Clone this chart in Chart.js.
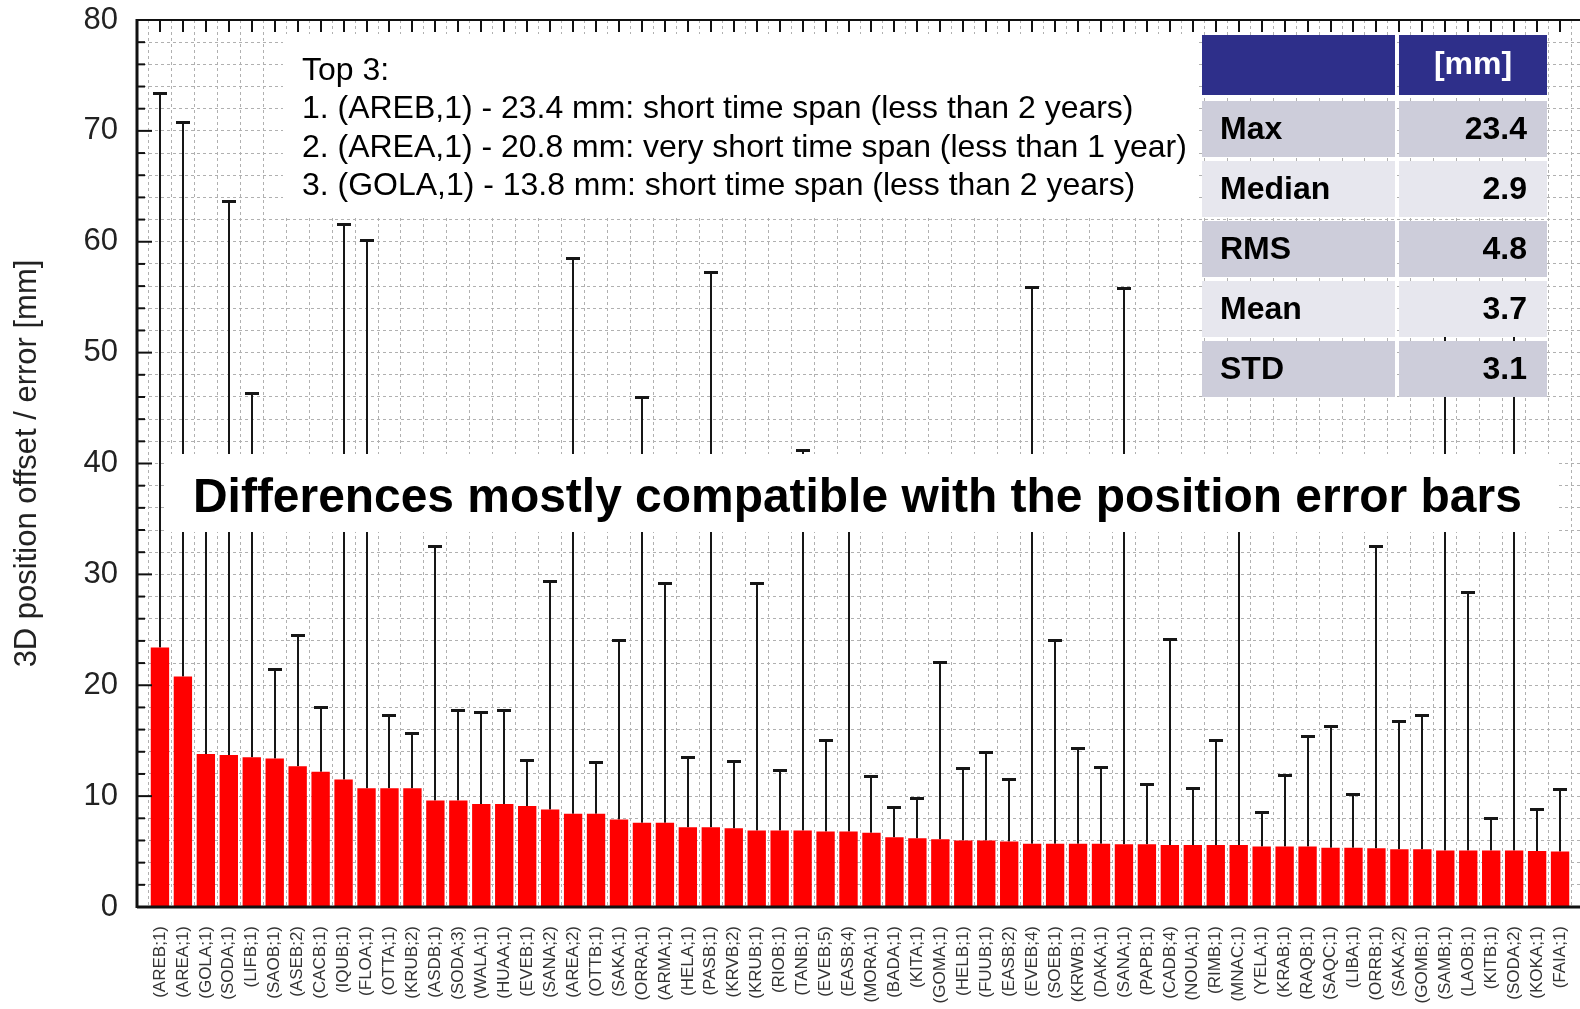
<!DOCTYPE html>
<html><head><meta charset="utf-8">
<script src="https://cdn.jsdelivr.net/npm/chart.js@4.4.1/dist/chart.umd.min.js"></script>
<style>
html,body{margin:0;padding:0;background:#fff;overflow:hidden;width:1580px;height:1009px;}
#wrap{position:absolute;left:0;top:0;width:1600px;height:1009px;}
</style></head><body>
<div id="wrap"><canvas id="c"></canvas></div>
<script>
// ---- data ----
const stations = ['(AREB;1)','(AREA;1)','(GOLA;1)','(SODA;1)','(LIFB;1)','(SAOB;1)','(ASEB;2)','(CACB;1)','(IQUB;1)','(FLOA;1)',
  '(OTTA;1)','(KRUB;2)','(ASDB;1)','(SODA;3)','(WALA;1)','(HUAA;1)','(EVEB;1)','(SANA;2)','(AREA;2)','(OTTB;1)',
  '(SAKA;1)','(ORRA;1)','(ARMA;1)','(HELA;1)','(PASB;1)','(KRVB;2)','(KRUB;1)','(RIOB;1)','(TANB;1)','(EVEB;5)',
  '(EASB;4)','(MORA;1)','(BADA;1)','(KITA;1)','(GOMA;1)','(HELB;1)','(FUUB;1)','(EASB;2)','(EVEB;4)','(SOEB;1)',
  '(KRWB;1)','(DAKA;1)','(SANA;1)','(PAPB;1)','(CADB;4)','(NOUA;1)','(RIMB;1)','(MNAC;1)','(YELA;1)','(KRAB;1)',
  '(RAQB;1)','(SAQC;1)','(LIBA;1)','(ORRB;1)','(SAKA;2)','(GOMB;1)','(SAMB;1)','(LAOB;1)','(KITB;1)','(SODA;2)',
  '(KOKA;1)','(FAIA;1)'];
const offsets = [23.4,20.8,13.8,13.7,13.5,13.4,12.7,12.2,11.5,10.7,
  10.7,10.7,9.6,9.6,9.3,9.3,9.1,8.8,8.4,8.4,
  7.9,7.6,7.6,7.2,7.2,7.1,6.9,6.9,6.9,6.8,
  6.8,6.7,6.3,6.2,6.1,6.0,6.0,5.9,5.7,5.7,
  5.7,5.7,5.65,5.65,5.6,5.6,5.6,5.6,5.45,5.45,
  5.45,5.35,5.35,5.3,5.2,5.2,5.1,5.1,5.1,5.1,
  5.05,5.0];
const errors = [50.0,50.0,23.2,50.0,32.9,8.1,11.8,5.8,50.1,49.5,
  6.6,5.0,23.0,8.2,8.3,8.5,4.2,20.6,50.1,4.7,
  16.2,38.4,21.6,6.3,50.1,6.1,22.3,5.5,34.3,8.3,
  31.2,5.1,2.7,3.6,16.0,6.5,8.0,5.6,50.2,18.4,
  8.6,6.9,50.15,5.45,18.6,5.1,9.5,30.4,3.15,6.45,
  9.95,10.95,4.85,27.3,11.6,12.1,50.0,23.3,2.9,50.0,
  3.8,5.6];
const yMin = 0, yMax = 80, yStep = 2, yLabelStep = 10;
const yTitle = '3D position offset / error [mm]';
const top3Lines = ['Top 3:',
  '1. (AREB,1) - 23.4 mm: short time span (less than 2 years)',
  '2. (AREA,1) - 20.8 mm: very short time span (less than 1 year)',
  '3. (GOLA,1) - 13.8 mm: short time span (less than 2 years)'];
const headline = 'Differences mostly compatible with the position error bars';
const statUnit = '[mm]';
const statNames = ['Max','Median','RMS','Mean','STD'];
const statValues = ['23.4','2.9','4.8','3.7','3.1'];

const FAM = '"Liberation Sans", Arial, Helvetica, sans-serif';

function fitFont(ctx, text, weight, baseSize, targetWidth) {
  ctx.font = weight + ' ' + baseSize + 'px ' + FAM;
  const w = ctx.measureText(text).width;
  return baseSize * targetWidth / w;
}

const errorBars = {
  id: 'errorBars',
  beforeDatasetsDraw(chart) {
    const ctx = chart.ctx, ys = chart.scales.y, meta = chart.getDatasetMeta(0);
    ctx.save();
    ctx.strokeStyle = '#161616';
    meta.data.forEach((bar, i) => {
      const x = Math.round(bar.x);
      const y0 = ys.getPixelForValue(offsets[i]);
      const y1 = Math.round(ys.getPixelForValue(offsets[i] + errors[i])) + 0.5;
      ctx.lineWidth = 2;
      ctx.beginPath(); ctx.moveTo(x, y0); ctx.lineTo(x, y1); ctx.stroke();
      ctx.lineWidth = 3;
      ctx.beginPath(); ctx.moveTo(x - 7, y1); ctx.lineTo(x + 7, y1); ctx.stroke();
    });
    ctx.restore();
  }
};

const overlay = {
  id: 'overlay',
  afterDatasetsDraw(chart) {
    const ctx = chart.ctx, xs = chart.scales.x, ys = chart.scales.y, a = chart.chartArea;
    ctx.save();
    // white boxes behind annotations
    ctx.fillStyle = '#ffffff';
    ctx.fillRect(283, 34, 916, 181);
    ctx.fillRect(165, 454, 1391, 78);
    // frame
    ctx.strokeStyle = '#111';
    ctx.lineWidth = 2;
    ctx.beginPath(); ctx.moveTo(a.left, a.top); ctx.lineTo(a.right, a.top); ctx.stroke();
    ctx.lineWidth = 3;
    ctx.beginPath(); ctx.moveTo(a.left, a.top - 1); ctx.lineTo(a.left, a.bottom + 1); ctx.stroke();
    ctx.beginPath(); ctx.moveTo(a.left, a.bottom); ctx.lineTo(a.right, a.bottom); ctx.stroke();
    // inner ticks on y axis
    ctx.lineWidth = 2;
    for (let v = yMin; v <= yMax; v += yStep) {
      const y = ys.getPixelForValue(v);
      const len = (v % yLabelStep === 0) ? 15 : 8;
      ctx.beginPath(); ctx.moveTo(a.left, y); ctx.lineTo(a.left + len, y); ctx.stroke();
    }
    // ticks on top border
    for (let i = 0; i <= stations.length; i++) {
      const x = Math.round(xs.getPixelForValue(i));
      ctx.beginPath(); ctx.moveTo(x, a.top); ctx.lineTo(x, a.top + 12); ctx.stroke();
    }
    // top-3 text
    ctx.fillStyle = '#000';
    const f3 = fitFont(ctx, top3Lines[2], 'normal', 30, 885);
    ctx.font = f3.toFixed(2) + 'px ' + FAM;
    ctx.textAlign = 'left'; ctx.textBaseline = 'alphabetic';
    top3Lines.forEach((t, k) => ctx.fillText(t, 302, 80 + k * 38.3));
    // headline
    const fh = fitFont(ctx, headline, 'bold', 50, 1329);
    ctx.font = 'bold ' + fh.toFixed(2) + 'px ' + FAM;
    ctx.fillText(headline, 193, 512);
    // table
    const c1 = 1202, c1w = 193, c2 = 1399, c2w = 148;
    ctx.fillStyle = '#2e2f8a';
    ctx.fillRect(c1, 35, c1w, 60); ctx.fillRect(c2, 35, c2w, 60);
    ctx.fillStyle = '#ffffff';
    ctx.font = 'bold 32px ' + FAM;
    ctx.textAlign = 'center'; ctx.textBaseline = 'middle';
    ctx.fillText(statUnit, c2 + c2w / 2, 65);
    statNames.forEach((n, k) => {
      const top = 101 + k * 60, h = 56;
      ctx.fillStyle = (k % 2 === 0) ? '#cdcdda' : '#e7e7ee';
      ctx.fillRect(c1, top, c1w, h); ctx.fillRect(c2, top, c2w, h);
      ctx.fillStyle = '#000';
      ctx.font = 'bold 32px ' + FAM;
      ctx.textAlign = 'left';
      ctx.fillText(n, 1220, top + h / 2 + 1);
      ctx.textAlign = 'right';
      ctx.fillText(statValues[k], 1527, top + h / 2 + 1);
    });
    ctx.restore();
  }
};

new Chart(document.getElementById('c'), {
  type: 'bar',
  data: {
    datasets: [{
      data: stations.map((s, i) => ({ x: i, y: offsets[i] })),
      backgroundColor: '#ff0000',
      borderWidth: 0,
      categoryPercentage: 1.0,
      barPercentage: 0.8
    }]
  },
  options: {
    responsive: true, maintainAspectRatio: false, devicePixelRatio: 1, animation: false,
    layout: { padding: { left: 0, right: 17, top: 20, bottom: 0 } },
    plugins: { legend: { display: false }, tooltip: { enabled: false } },
    scales: {
      x: {
        type: 'linear', min: -1, max: stations.length, offset: false,
        grid: { color: '#b0b0b0', lineWidth: 1, drawTicks: false },
        border: { display: false, dash: [3, 3] },
        ticks: {
          stepSize: 1, autoSkip: false, maxTicksLimit: 500, minRotation: 90, maxRotation: 90,
          padding: 19, color: '#333', font: { family: FAM, size: 17 },
          callback: (v) => { const k = Math.round(v); return stations[k] !== undefined ? stations[k] : ''; }
        },
        afterFit(s) { s.height = 102; s.paddingLeft = 0; s.paddingRight = 0; }
      },
      y: {
        min: yMin, max: yMax,
        grid: { color: '#b0b0b0', lineWidth: 1, drawTicks: false },
        border: { display: false, dash: [3, 3] },
        ticks: {
          stepSize: yStep, autoSkip: false, maxTicksLimit: 200, padding: 19, color: '#222',
          font: { family: FAM, size: 31 },
          callback: (v) => (Math.round(v) % yLabelStep === 0 ? String(Math.round(v)) : '')
        },
        title: { display: true, text: yTitle, color: '#222', font: { family: FAM, size: 31 }, padding: { top: 9, bottom: 0 } },
        afterFit(s) { s.width = 137; s.paddingTop = 0; s.paddingBottom = 0; }
      }
    }
  },
  plugins: [errorBars, overlay]
});
</script>
</body></html>
